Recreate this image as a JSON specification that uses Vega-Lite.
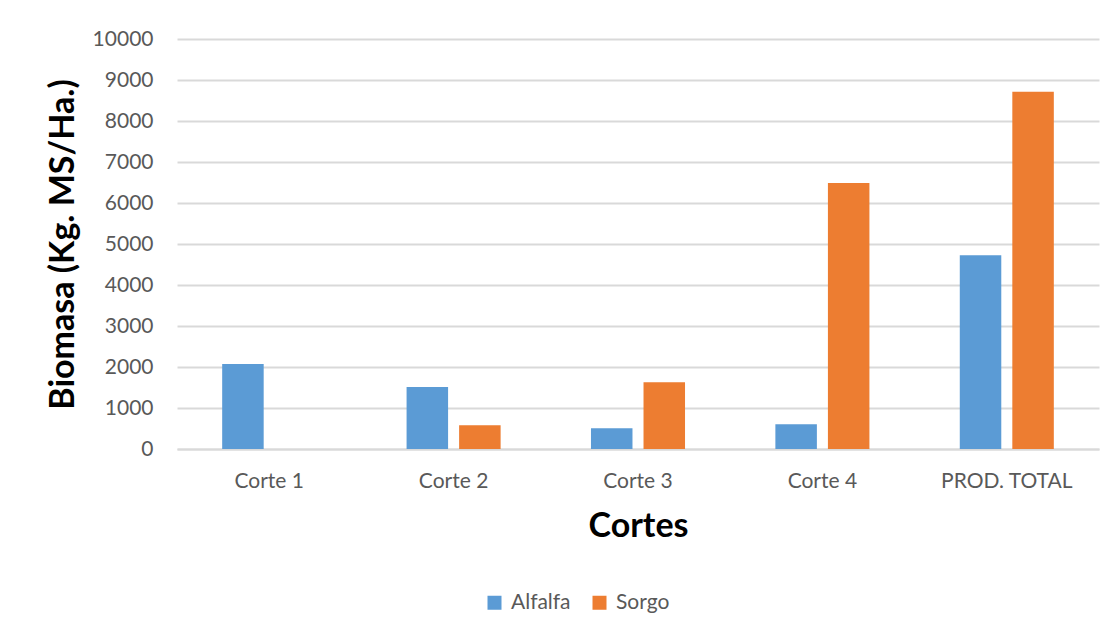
{
  "$schema": "https://vega.github.io/schema/vega-lite/v6.json",
  "autosize": {"type": "none"},
  "width": 922,
  "height": 410,
  "padding": {"left": 177, "top": 39, "right": 14, "bottom": 188},
  "background": "white",
  "data": {
    "values": [
      {"corte": "Corte 1", "especie": "Alfalfa", "biomasa": 2075},
      {"corte": "Corte 1", "especie": "Sorgo", "biomasa": 0},
      {"corte": "Corte 2", "especie": "Alfalfa", "biomasa": 1512},
      {"corte": "Corte 2", "especie": "Sorgo", "biomasa": 578},
      {"corte": "Corte 3", "especie": "Alfalfa", "biomasa": 504},
      {"corte": "Corte 3", "especie": "Sorgo", "biomasa": 1626},
      {"corte": "Corte 4", "especie": "Alfalfa", "biomasa": 602},
      {"corte": "Corte 4", "especie": "Sorgo", "biomasa": 6490},
      {"corte": "PROD. TOTAL", "especie": "Alfalfa", "biomasa": 4724},
      {"corte": "PROD. TOTAL", "especie": "Sorgo", "biomasa": 8715}
    ]
  },
  "mark": {"type": "bar"},
  "encoding": {
    "x": {
      "field": "corte",
      "type": "nominal",
      "sort": null,
      "scale": {"paddingInner": 0.49, "paddingOuter": 0.245},
      "axis": {
        "title": "Cortes",
        "titleFont": "Lato",
        "titleFontSize": 34,
        "titleFontWeight": "bold",
        "titleColor": "#000000",
        "titlePadding": 18,
        "labelAngle": 0,
        "labelFont": "Lato",
        "labelFontSize": 21,
        "labelColor": "#595959",
        "labelPadding": 21,
        "ticks": false,
        "domainColor": "#d9d9d9",
        "domainWidth": 2
      }
    },
    "xOffset": {
      "field": "especie",
      "type": "nominal",
      "scale": {"paddingInner": 0.21, "paddingOuter": 0}
    },
    "y": {
      "field": "biomasa",
      "type": "quantitative",
      "scale": {"domain": [0, 10000], "nice": false},
      "axis": {
        "title": "Biomasa (Kg. MS/Ha.)",
        "titleFont": "Lato",
        "titleFontSize": 34,
        "titleFontWeight": "bold",
        "titleColor": "#000000",
        "titlePadding": 12,
        "values": [0, 1000, 2000, 3000, 4000, 5000, 6000, 7000, 8000, 9000, 10000],
        "format": "d",
        "labelFont": "Lato",
        "labelFontSize": 21,
        "labelColor": "#595959",
        "labelPadding": 24,
        "ticks": false,
        "domain": false,
        "grid": true,
        "gridColor": "#d9d9d9",
        "gridWidth": 2
      }
    },
    "color": {
      "field": "especie",
      "type": "nominal",
      "scale": {"domain": ["Alfalfa", "Sorgo"], "range": ["#5b9bd5", "#ed7d31"]},
      "legend": {
        "title": null,
        "orient": "none",
        "direction": "horizontal",
        "legendX": 307,
        "legendY": 553,
        "symbolType": "square",
        "symbolSize": 196,
        "symbolStrokeWidth": 0,
        "labelFont": "Lato",
        "labelFontSize": 21,
        "labelColor": "#595959",
        "labelOffset": 6,
        "columnPadding": 18
      }
    }
  },
  "config": {
    "view": {"stroke": null}
  }
}
